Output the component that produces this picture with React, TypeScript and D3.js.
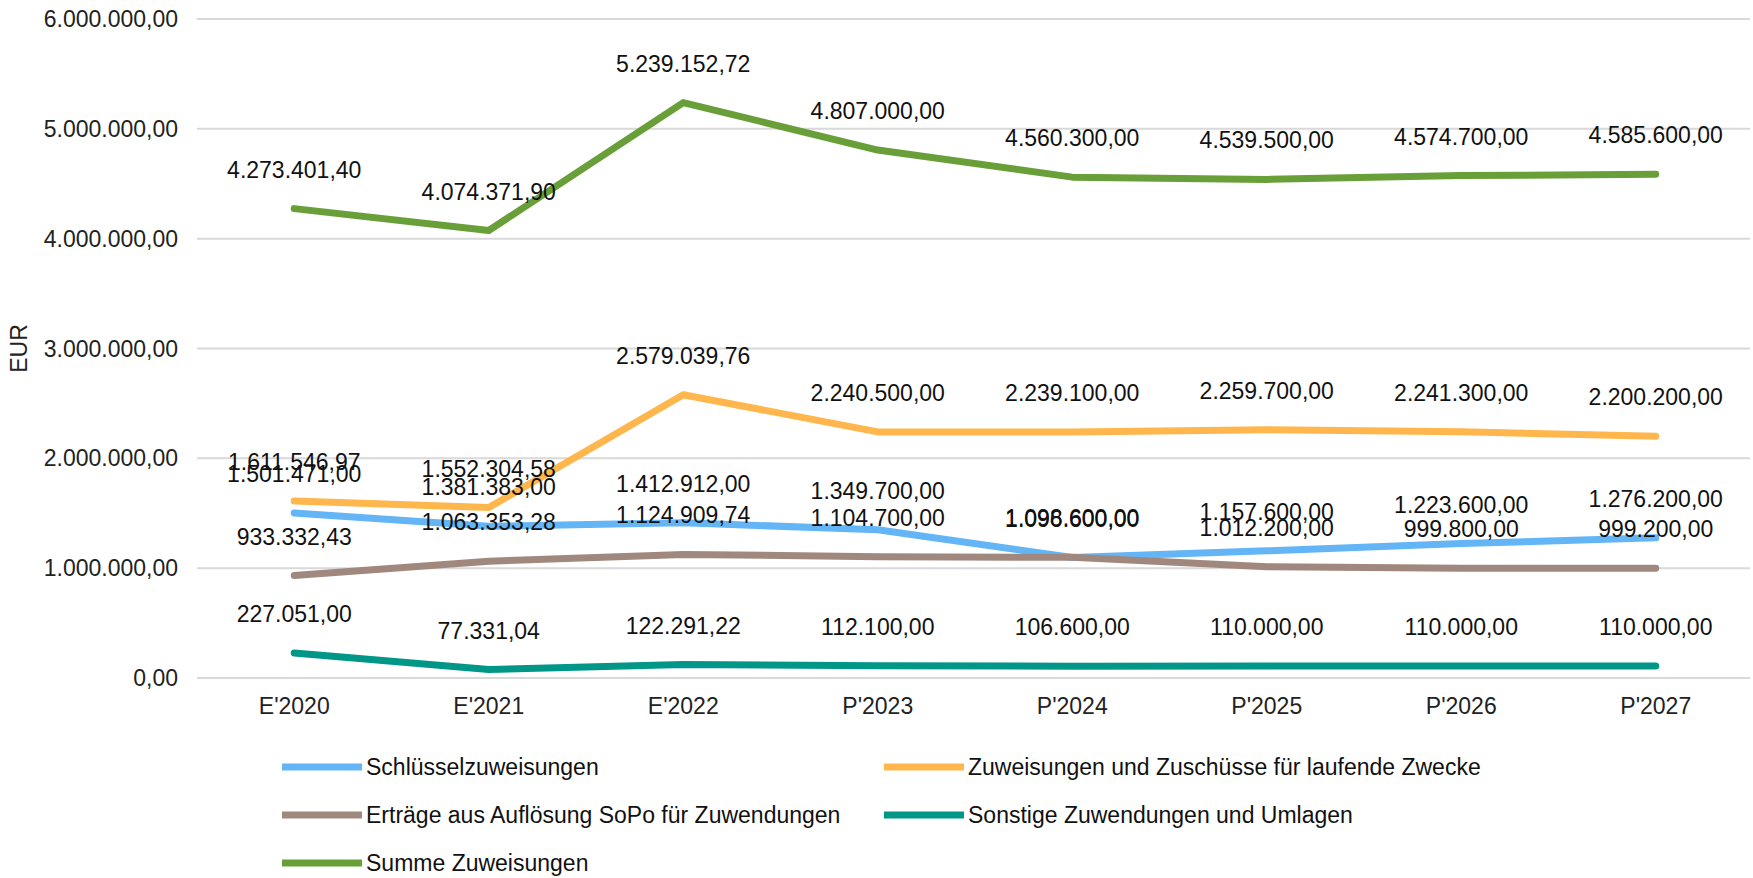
import React, { useEffect, useRef } from "react";
import * as d3 from "d3";

const categories = ["E'2020", "E'2021", "E'2022", "P'2023", "P'2024", "P'2025", "P'2026", "P'2027"];
const schluessel = [1501471.0, 1381383.0, 1412912.0, 1349700.0, 1096600.0, 1157600.0, 1223600.0, 1276200.0];
const zuschuesse = [1611546.97, 1552304.58, 2579039.76, 2240500.0, 2239100.0, 2259700.0, 2241300.0, 2200200.0];
const sopo = [933332.43, 1063353.28, 1124909.74, 1104700.0, 1098600.0, 1012200.0, 999800.0, 999200.0];
const sonstige = [227051.0, 77331.04, 122291.22, 112100.0, 106600.0, 110000.0, 110000.0, 110000.0];
const summe = [4273401.4, 4074371.9, 5239152.72, 4807000.0, 4560300.0, 4539500.0, 4574700.0, 4585600.0];
const yTicks = [0, 1000000, 2000000, 3000000, 4000000, 5000000, 6000000];

const seriesNames = [
  "Schlüsselzuweisungen",
  "Zuweisungen und Zuschüsse für laufende Zwecke",
  "Erträge aus Auflösung SoPo für Zuwendungen",
  "Sonstige Zuwendungen und Umlagen",
  "Summe Zuweisungen",
];
const seriesValues = [schluessel, zuschuesse, sopo, sonstige, summe];
const seriesColors = ["#64B5F6", "#FFB74D", "#A1887F", "#009688", "#689F38"];

const W = 1753;
const H = 878;
const FONT = "'Liberation Sans', Arial, sans-serif";
const FS = 23;

export default function App() {
  const ref = useRef<SVGSVGElement>(null);

  useEffect(() => {
    const svg = d3.select(ref.current);
    svg.selectAll("*").remove();

    const locale = d3.formatLocale({ decimal: ",", thousands: ".", grouping: [3], currency: ["", " €"] });
    const fmt = locale.format(",.2f");

    const x = d3.scaleBand<string>().domain(categories).range([197, 1753]).padding(0);
    const xc = (c: string) => (x(c) as number) + x.bandwidth() / 2;
    const y = d3.scaleLinear().domain([0, 6000000]).range([678, 19]);

    // gridlines
    svg
      .append("g")
      .selectAll("line")
      .data(yTicks)
      .join("line")
      .attr("x1", 197)
      .attr("x2", 1750)
      .attr("y1", (d) => y(d))
      .attr("y2", (d) => y(d))
      .attr("stroke", "#d9d9d9")
      .attr("stroke-width", 2);

    // y labels
    svg
      .append("g")
      .selectAll("text")
      .data(yTicks)
      .join("text")
      .attr("x", 178)
      .attr("y", (d) => y(d))
      .attr("dy", "0.35em")
      .attr("text-anchor", "end")
      .attr("font-family", FONT)
      .attr("font-size", FS)
      .attr("fill", "#222")
      .text((d) => fmt(d));

    // y title
    svg
      .append("text")
      .attr("transform", `translate(19,${(y(0) + y(6000000)) / 2}) rotate(-90)`)
      .attr("dy", "0.35em")
      .attr("text-anchor", "middle")
      .attr("font-family", FONT)
      .attr("font-size", FS)
      .attr("fill", "#222")
      .text("EUR");

    // x labels
    svg
      .append("g")
      .selectAll("text")
      .data(categories)
      .join("text")
      .attr("x", (d) => xc(d))
      .attr("y", 706)
      .attr("dy", "0.35em")
      .attr("text-anchor", "middle")
      .attr("font-family", FONT)
      .attr("font-size", FS)
      .attr("fill", "#222")
      .text((d) => d);

    const line = d3
      .line<number>()
      .x((_, i) => xc(categories[i]))
      .y((d) => y(d));

    seriesValues.forEach((vals, si) => {
      svg
        .append("path")
        .attr("d", line(vals) as string)
        .attr("fill", "none")
        .attr("stroke", seriesColors[si])
        .attr("stroke-width", 7)
        .attr("stroke-linejoin", "round")
        .attr("stroke-linecap", "round");
    });

    seriesValues.forEach((vals) => {
      svg
        .append("g")
        .selectAll("text")
        .data(vals)
        .join("text")
        .attr("x", (_, i) => xc(categories[i]))
        .attr("y", (d) => y(d) - 39)
        .attr("dy", "0.35em")
        .attr("text-anchor", "middle")
        .attr("font-family", FONT)
        .attr("font-size", FS)
        .attr("fill", "#111")
        .text((d) => fmt(d));
    });

    // legend
    const legendPos = [
      [282, 767],
      [884, 767],
      [282, 815],
      [884, 815],
      [282, 863],
    ];
    seriesNames.forEach((name, i) => {
      const [lx, ly] = legendPos[i];
      const g = svg.append("g");
      g.append("line")
        .attr("x1", lx)
        .attr("x2", lx + 80)
        .attr("y1", ly)
        .attr("y2", ly)
        .attr("stroke", seriesColors[i])
        .attr("stroke-width", 7);
      g.append("text")
        .attr("x", lx + 84)
        .attr("y", ly)
        .attr("dy", "0.35em")
        .attr("font-family", FONT)
        .attr("font-size", FS)
        .attr("fill", "#111")
        .text(name);
    });
  }, []);

  return (
    <div style={{ position: "absolute", left: 0, top: 0 }}>
      <svg ref={ref} width={W} height={H} style={{ display: "block", background: "#fff" }} />
    </div>
  );
}
